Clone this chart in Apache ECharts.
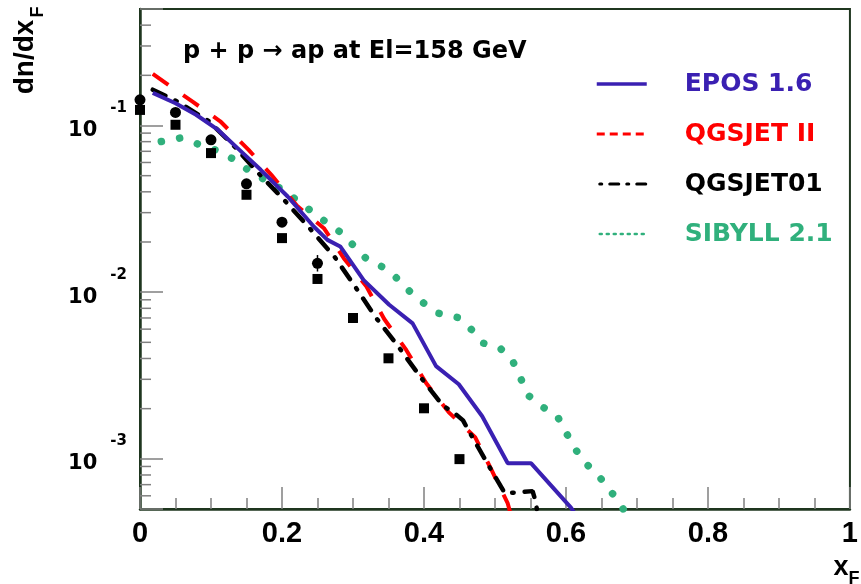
<!DOCTYPE html>
<html>
<head>
<meta charset="utf-8">
<script src="https://cdn.jsdelivr.net/npm/echarts@6/dist/echarts.min.js"></script>
<style>
  html, body { margin: 0; padding: 0; background: #fff; }
  #chart { width: 861px; height: 584px; }
</style>
</head>
<body>
<div id="chart"></div>
<script>
// model curves
const eposX = [0.018, 0.05, 0.079, 0.11, 0.14, 0.17, 0.208, 0.245, 0.264, 0.282, 0.315, 0.351, 0.384, 0.417, 0.449, 0.482, 0.518, 0.551, 0.607, 0.62]
const eposY = [0.157, 0.136, 0.116, 0.094, 0.0714, 0.0542, 0.0375, 0.0247, 0.0206, 0.0188, 0.0118, 0.0084, 0.0065, 0.0036, 0.0028, 0.0018, 0.00094, 0.00094, 0.00051, 0.00042]

const qgs2X = [0.018, 0.074, 0.113, 0.153, 0.185, 0.222, 0.259, 0.287, 0.319, 0.344, 0.375, 0.403, 0.435, 0.472, 0.495, 0.518, 0.525]
const qgs2Y = [0.204, 0.139, 0.106, 0.0714, 0.0506, 0.0327, 0.0242, 0.016, 0.0108, 0.0069, 0.0045, 0.00285, 0.0019, 0.00135, 0.00086, 0.00054, 0.00042]

const qgs01X = [0.018, 0.053, 0.097, 0.134, 0.169, 0.205, 0.24, 0.274, 0.303, 0.332, 0.364, 0.394, 0.426, 0.445, 0.455, 0.462, 0.488, 0.514, 0.553, 0.557, 0.562]
const qgs01Y = [0.164, 0.139, 0.106, 0.0741, 0.0506, 0.035, 0.0239, 0.0163, 0.0108, 0.00706, 0.00471, 0.00314, 0.0021, 0.00185, 0.0017, 0.0015, 0.00096, 0.00062, 0.00064, 0.00056, 0.00042]

const sibX = [0.03, 0.056, 0.081, 0.106, 0.13, 0.15, 0.174, 0.197, 0.218, 0.238, 0.259, 0.281, 0.3, 0.318, 0.341, 0.361, 0.38, 0.4, 0.421, 0.447, 0.467, 0.484, 0.508, 0.525, 0.536, 0.546, 0.565, 0.587, 0.599, 0.611, 0.626, 0.645, 0.661, 0.674, 0.69]
const sibY = [0.0801, 0.084, 0.0776, 0.0714, 0.0634, 0.055, 0.0477, 0.0421, 0.0364, 0.0314, 0.0269, 0.0231, 0.0192, 0.016, 0.0142, 0.0122, 0.0101, 0.00857, 0.00746, 0.00706, 0.00596, 0.00494, 0.00458, 0.00386, 0.00306, 0.00242, 0.00207, 0.00183, 0.00147, 0.00118, 0.000955, 0.000801, 0.000655, 0.000557, 0.00043]

// measured points
const circleX = [0, 0.05, 0.1, 0.15, 0.2, 0.25]
const circleY = [0.1426, 0.1197, 0.082, 0.0447, 0.0263, 0.0149]
const squareX = [0, 0.05, 0.1, 0.15, 0.2, 0.25, 0.3, 0.35, 0.4, 0.45]
const squareY = [0.124, 0.101, 0.0683, 0.0384, 0.0211, 0.012, 0.007, 0.00401, 0.00201, 0.000996]
const errX = [0.25]
const errLow = [0.0133]
const errHigh = [0.0167]

// log axis minor ticks
const yMinorTicks = [0.0006, 0.0007, 0.0008, 0.0009,
  0.002, 0.003, 0.004, 0.005, 0.006, 0.007, 0.008, 0.009,
  0.02, 0.03, 0.04, 0.05, 0.06, 0.07, 0.08, 0.09,
  0.2, 0.3, 0.4]

const zip = (xs, ys) => xs.map((x, i) => [x, ys[i]])

const BLUE = '#3a20b2'
const RED = '#ff0000'
const GREEN = '#30b07c'
const FRAME = '#1f361f'
const TICK = '#808080'
const DJ = '"DejaVu Sans", sans-serif'

const chart = echarts.init(document.getElementById('chart'))

chart.setOption({
  backgroundColor: '#ffffff',
  animation: false,
  grid: {
    left: 140,
    right: 1,
    top: 9,
    bottom: 75,
    show: true,
    borderColor: FRAME,
    borderWidth: 2
  },
  xAxis: {
    type: 'value',
    min: 0,
    max: 1,
    interval: 0.2,
    axisLine: { lineStyle: { color: FRAME, width: 2.5 } },
    axisTick: { inside: true, length: 22, lineStyle: { color: TICK, width: 1.5 } },
    minorTick: { show: true, splitNumber: 4, length: 11, lineStyle: { color: TICK, width: 1.5 } },
    splitLine: { show: false },
    axisLabel: {
      margin: 10,
      color: '#000',
      fontFamily: '"Liberation Sans", sans-serif',
      fontWeight: 'bold',
      fontSize: 29,
      formatter: v => String(Math.round(v * 10) / 10)
    }
  },
  yAxis: {
    type: 'log',
    logBase: 10,
    min: 0.0005,
    max: 0.5,
    axisLine: { show: true, lineStyle: { color: FRAME, width: 2.5 } },
    axisTick: { inside: true, length: 23, lineStyle: { color: TICK, width: 1.5 } },
    splitLine: { show: false },
    axisLabel: {
      margin: 13,
      formatter: v => {
        const l = Math.log10(v)
        const e = Math.round(l)
        if (Math.abs(l - e) > 1e-6) return ''
        return '{b|10}{e|' + e + '}'
      },
      rich: {
        b: { fontFamily: DJ, fontWeight: 'bold', fontSize: 21, color: '#000', padding: [10, 0, 0, 0] },
        e: { fontFamily: DJ, fontWeight: 'bold', fontSize: 15, color: '#000', padding: [10, 0, 45, 13] }
      }
    }
  },
  legend: {
    orient: 'vertical',
    left: 595,
    top: 69,
    padding: 0,
    itemWidth: 50,
    itemHeight: 14,
    itemGap: 20,
    selectedMode: false,
    itemStyle: { opacity: 0 },
    textStyle: {
      fontFamily: DJ,
      fontWeight: 'bold',
      fontSize: 25,
      lineHeight: 30,
      padding: [0, 0, 0, 33]
    },
    data: [
      { name: 'EPOS 1.6', itemStyle: { opacity: 0 }, lineStyle: { color: BLUE, width: 3.5, type: 'solid' }, textStyle: { color: BLUE } },
      { name: 'QGSJET II', itemStyle: { opacity: 0 }, lineStyle: { color: RED, width: 3, type: [8, 5] }, textStyle: { color: RED } },
      { name: 'QGSJET01', itemStyle: { opacity: 0 }, lineStyle: { color: '#000', width: 3, type: [2, 8, 9, 8], dashOffset: -3 }, textStyle: { color: '#000' } },
      { name: 'SIBYLL 2.1', itemStyle: { opacity: 0 }, lineStyle: { color: GREEN, width: 2.5, type: [2, 5], dashOffset: -3 }, textStyle: { color: GREEN } }
    ]
  },
  graphic: [
    {
      type: 'text', x: 183, y: 52,
      style: { text: 'p + p \u2192 ap at El=158 GeV', font: 'bold 24px "DejaVu Sans"', fill: '#000', verticalAlign: 'middle' }
    },
    {
      type: 'text', x: 25, y: 57, rotation: Math.PI / 2,
      style: { text: 'dn/dx', font: 'bold 28px "Liberation Sans"', fill: '#000', align: 'center', verticalAlign: 'middle' }
    },
    {
      type: 'text', x: 38, y: 12, rotation: Math.PI / 2,
      style: { text: 'F', font: 'bold 18px "Liberation Sans"', fill: '#000', align: 'center', verticalAlign: 'middle' }
    },
    {
      type: 'text', x: 841, y: 568,
      style: { text: 'x', font: 'bold 27px "Liberation Sans"', fill: '#000', align: 'center', verticalAlign: 'middle' }
    },
    {
      type: 'text', x: 854, y: 579,
      style: { text: 'F', font: 'bold 18px "Liberation Sans"', fill: '#000', align: 'center', verticalAlign: 'middle' }
    }
  ],
  series: [
    {
      name: 'SIBYLL 2.1',
      type: 'line',
      data: zip(sibX, sibY),
      symbol: 'none',
      z: 2,
      lineStyle: { color: GREEN, width: 7.5, type: [0.1, 18.5], cap: 'round' }
    },
    {
      name: 'QGSJET II',
      type: 'line',
      data: zip(qgs2X, qgs2Y),
      symbol: 'none',
      z: 3,
      lineStyle: { color: RED, width: 4, type: [19, 18] }
    },
    {
      name: 'QGSJET01',
      type: 'line',
      data: zip(qgs01X, qgs01Y),
      symbol: 'none',
      z: 4,
      lineStyle: { color: '#000', width: 4.5, type: [14, 11, 1.5, 11], cap: 'round' }
    },
    {
      name: 'EPOS 1.6',
      type: 'line',
      data: zip(eposX, eposY),
      symbol: 'none',
      z: 5,
      lineStyle: { color: BLUE, width: 4 }
    },
    {
      name: 'data circles',
      type: 'scatter',
      data: zip(circleX, circleY),
      symbol: 'circle',
      symbolSize: 11,
      clip: false,
      z: 6,
      itemStyle: { color: '#000', opacity: 1 }
    },
    {
      name: 'data squares',
      type: 'scatter',
      data: zip(squareX, squareY),
      symbol: 'rect',
      symbolSize: 10,
      clip: false,
      z: 6,
      itemStyle: { color: '#000', opacity: 1 }
    },
    {
      name: 'errors',
      type: 'custom',
      z: 6,
      silent: true,
      data: errX.map((x, i) => [x, errLow[i], errHigh[i]]),
      renderItem: (params, api) => {
        const lo = api.coord([api.value(0), api.value(1)])
        const hi = api.coord([api.value(0), api.value(2)])
        return {
          type: 'line',
          shape: { x1: lo[0], y1: lo[1], x2: hi[0], y2: hi[1] },
          style: { stroke: '#000', lineWidth: 1.5 }
        }
      }
    },
    {
      name: 'minor ticks',
      type: 'custom',
      z: 1,
      silent: true,
      data: yMinorTicks.map(v => [0, v]),
      renderItem: (params, api) => {
        const p = api.coord([0, api.value(1)])
        return {
          type: 'line',
          shape: { x1: p[0], y1: p[1], x2: p[0] + 11, y2: p[1] },
          style: { stroke: TICK, lineWidth: 1.5 }
        }
      }
    }
  ]
})
</script>
</body>
</html>
